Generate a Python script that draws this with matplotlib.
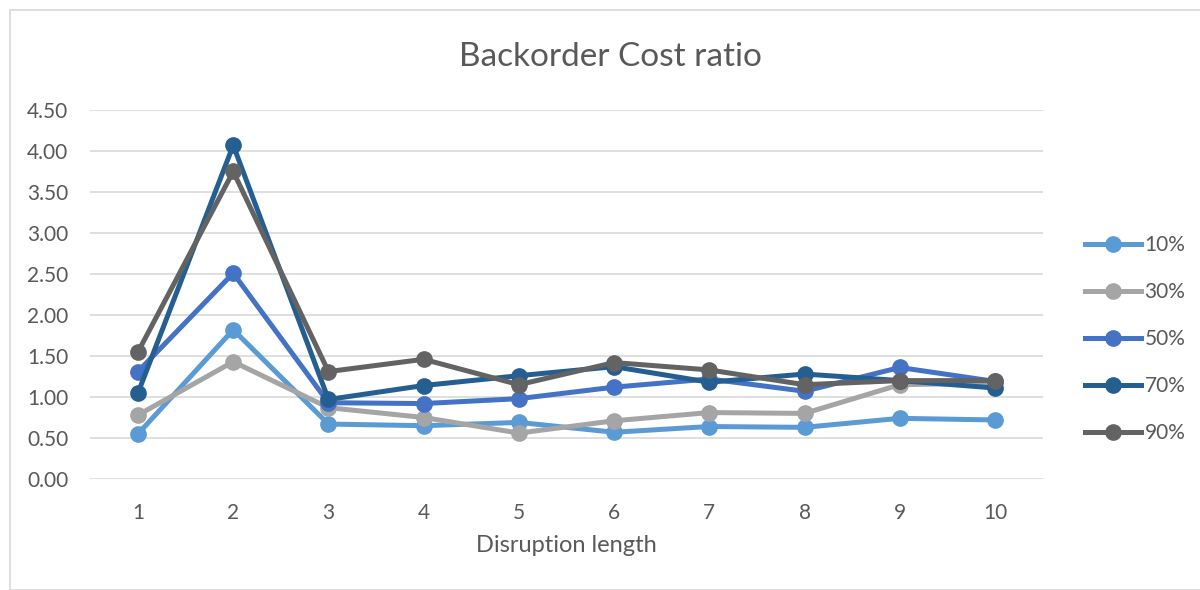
import matplotlib
matplotlib.use("Agg")
import matplotlib.pyplot as plt
from matplotlib.patches import Rectangle
from matplotlib.lines import Line2D

plt.rcParams['font.family'] = ['Lato', 'DejaVu Sans']

disruption_length = [1, 2, 3, 4, 5, 6, 7, 8, 9, 10]
series_names = ['10%', '30%', '50%', '70%', '90%']
ratio_10 = [0.55, 1.82, 0.67, 0.65, 0.69, 0.57, 0.64, 0.63, 0.74, 0.72]
ratio_30 = [0.78, 1.43, 0.87, 0.75, 0.56, 0.71, 0.81, 0.80, 1.15, 1.17]
ratio_50 = [1.31, 2.51, 0.93, 0.92, 0.98, 1.12, 1.22, 1.07, 1.36, 1.19]
ratio_70 = [1.05, 4.07, 0.97, 1.14, 1.26, 1.37, 1.18, 1.28, 1.20, 1.11]
ratio_90 = [1.55, 3.75, 1.31, 1.46, 1.15, 1.42, 1.33, 1.15, 1.20, 1.20]
y_ticks = [0.0, 0.5, 1.0, 1.5, 2.0, 2.5, 3.0, 3.5, 4.0, 4.5]

colors = ['#5B9BD5', '#A5A5A5', '#4472C4', '#255E91', '#636363']
series = [ratio_10, ratio_30, ratio_50, ratio_70, ratio_90]
text_color = '#595959'
lw = 3.6
ms = 11

fig = plt.figure(figsize=(12, 5.9), dpi=100)
fig.patches.append(Rectangle((10 / 1200, 0), 1.2, (590 - 10) / 590, transform=fig.transFigure,
                             facecolor='white', edgecolor='#D9D9D9', linewidth=1.2, zorder=-1))

ax = fig.add_axes([90.4 / 1200, (590 - 479) / 590, (1042.6 - 90.4) / 1200, (479 - 110) / 590])
ax.set_facecolor('none')

for name, vals, c in zip(series_names, series, colors):
    ax.plot(disruption_length, vals, color=c, linewidth=lw, marker='o', markersize=ms,
            solid_capstyle='round', solid_joinstyle='round', label=name, zorder=3)

ax.set_xlim(0.5, 10.5)
ax.set_ylim(0, 4.5)
ax.set_yticks(y_ticks)
ax.set_yticklabels([f'{v:.2f}' for v in y_ticks])
ax.set_xticks(disruption_length)
ax.set_xticklabels([str(v) for v in disruption_length])
ax.grid(axis='y', color='#D9D9D9', linewidth=1.2, zorder=0)
ax.set_axisbelow(True)
for s in ax.spines.values():
    s.set_visible(False)
ax.tick_params(axis='both', length=0, labelsize=15, colors=text_color)
ax.tick_params(axis='y', pad=16)
ax.tick_params(axis='x', pad=17)

ax.set_xlabel('Disruption length', fontsize=17, color=text_color, labelpad=9)
fig.text(610 / 1200, 1 - 57 / 590, 'Backorder Cost ratio', ha='center', va='center',
         fontsize=24, color=text_color)

handles = [Line2D([0], [0], color=c, linewidth=lw, marker='o', markersize=ms) for c in colors]
leg = fig.legend(handles, series_names, loc='center left', bbox_to_anchor=(1085 / 1200, 1 - 339 / 590),
                 frameon=False, fontsize=15, labelspacing=1.3, handlelength=2.7, handletextpad=0.15,
                 borderpad=0, borderaxespad=0)
for t in leg.get_texts():
    t.set_color(text_color)

fig.savefig('out.png', dpi=100)
